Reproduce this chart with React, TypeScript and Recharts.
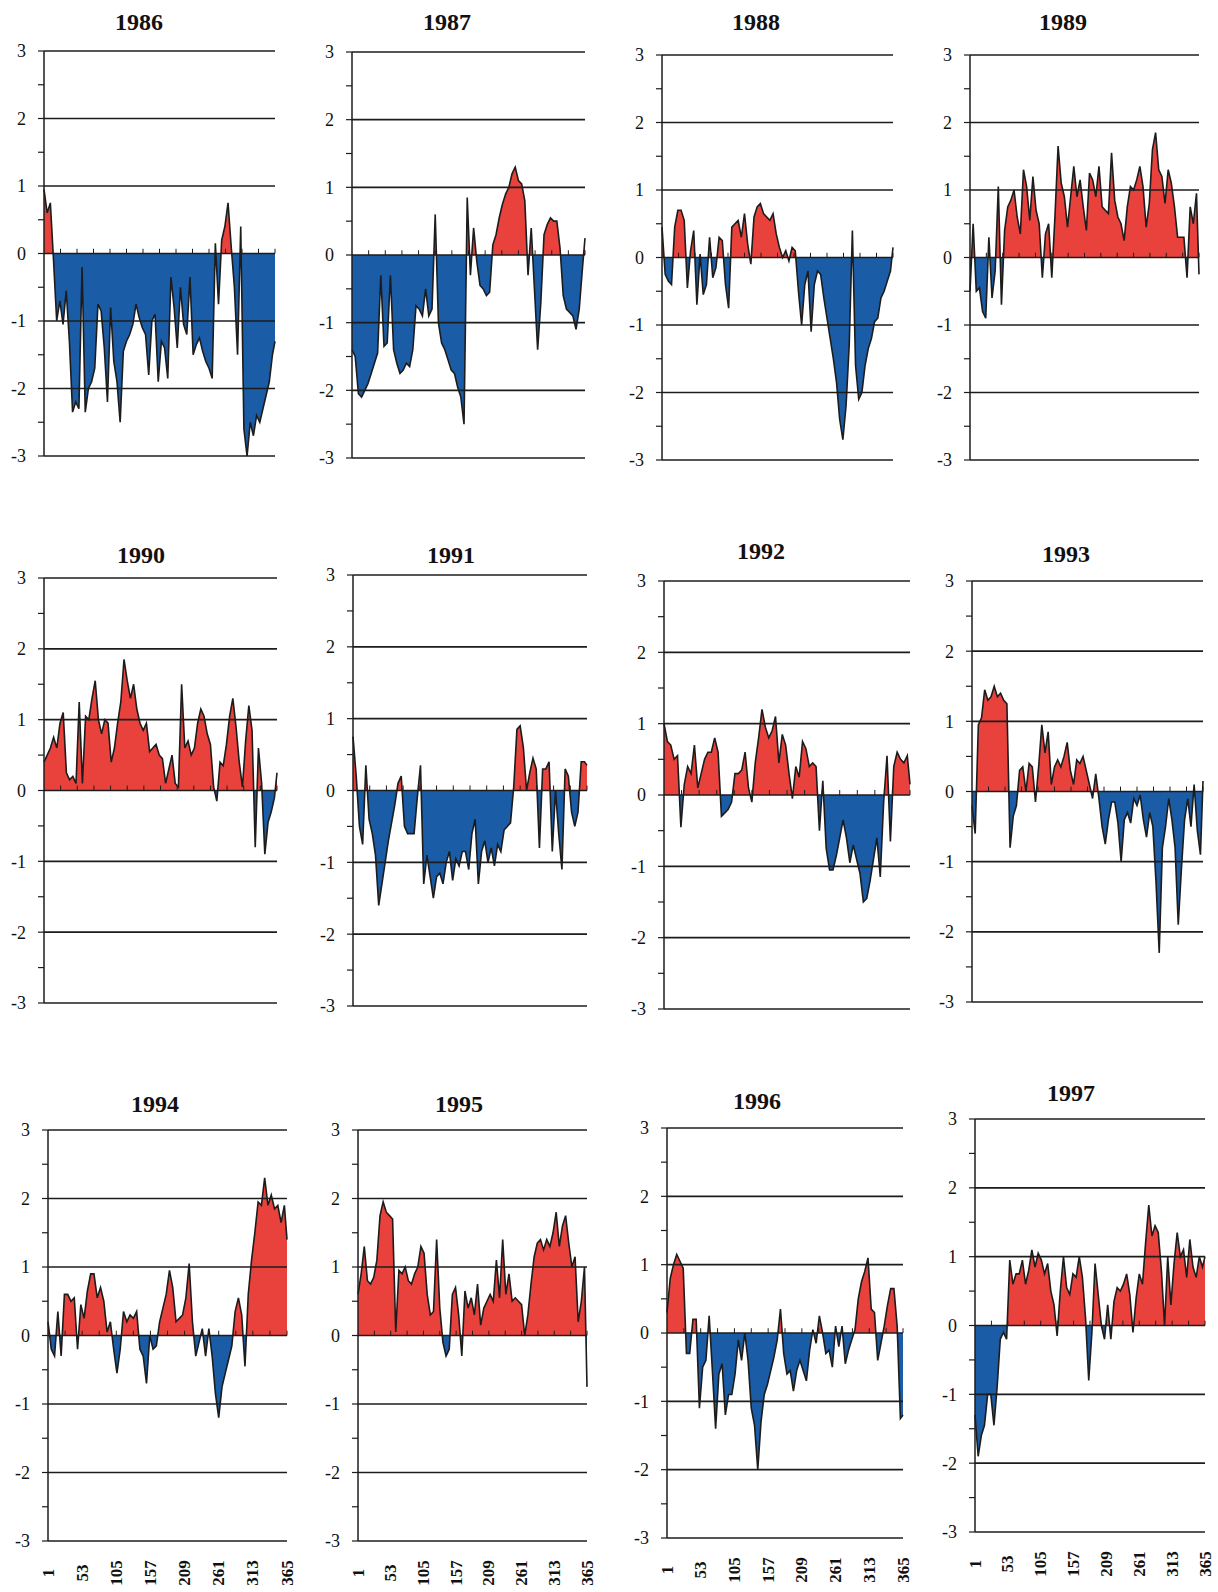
import React from 'react';
import { ComposedChart, Area, XAxis, YAxis, ReferenceLine } from 'recharts';

// Day-of-year positions of the sampled values
const days = [1,6,11,16,21,26,31,36,41,46,51,56,61,66,71,76,81,86,91,96,101,106,111,116,121,126,131,136,141,146,151,156,161,166,171,176,181,186,191,196,201,206,211,216,221,226,231,236,241,246,251,256,261,266,271,276,281,286,291,296,301,306,311,316,321,326,331,336,341,346,351,356,361,365];

const xLabelDays = [1, 53, 105, 157, 209, 261, 313, 365];
const zeroTickDays = [27, 53, 79, 105, 131, 157, 183, 209, 235, 261, 287, 313, 339, 365];
const yTicks = [-3, -2.5, -2, -1.5, -1, -0.5, 0, 0.5, 1, 1.5, 2, 2.5, 3];
const yGrid = [-3, -2, -1, 1, 2, 3];

const v1986 = [0.95,0.6,0.75,-0.1,-1.0,-0.7,-1.05,-0.55,-1.3,-2.35,-2.2,-2.3,-0.2,-2.35,-2.0,-1.9,-1.7,-0.75,-0.85,-1.4,-2.2,-0.8,-1.6,-1.9,-2.5,-1.45,-1.3,-1.2,-1.05,-0.75,-0.95,-1.1,-1.2,-1.8,-1.0,-0.9,-1.9,-1.3,-1.4,-1.85,-0.35,-0.8,-1.4,-0.5,-1.05,-1.2,-0.35,-1.5,-1.35,-1.25,-1.45,-1.6,-1.7,-1.85,0.15,-0.75,0.2,0.4,0.75,0.1,-0.5,-1.5,0.4,-2.6,-3.0,-2.5,-2.7,-2.4,-2.5,-2.3,-2.1,-1.9,-1.5,-1.3];
const v1987 = [-1.4,-1.5,-2.05,-2.1,-2.0,-1.9,-1.75,-1.6,-1.45,-0.3,-1.35,-1.3,-0.3,-1.4,-1.6,-1.75,-1.7,-1.6,-1.65,-1.4,-0.75,-0.8,-0.9,-0.5,-0.9,-0.8,0.6,-1.0,-1.3,-1.4,-1.55,-1.7,-1.75,-1.95,-2.1,-2.5,0.85,-0.3,0.4,-0.1,-0.45,-0.5,-0.6,-0.55,0.15,0.3,0.55,0.75,0.9,1.0,1.2,1.3,1.1,1.05,0.8,-0.3,0.4,-0.5,-1.4,-0.7,0.3,0.45,0.55,0.5,0.5,0.1,-0.6,-0.8,-0.85,-0.9,-1.1,-0.8,-0.2,0.25];
const v1988 = [0.45,-0.25,-0.35,-0.4,0.45,0.7,0.7,0.55,-0.45,0.1,0.4,-0.7,0.05,-0.55,-0.4,0.3,-0.3,-0.15,0.3,0.25,-0.4,-0.75,0.45,0.5,0.55,0.3,0.65,0.2,-0.1,0.6,0.75,0.8,0.65,0.6,0.55,0.65,0.35,0.15,0.0,0.1,-0.05,0.15,0.1,-0.5,-1.0,-0.4,-0.2,-1.1,-0.4,-0.2,-0.25,-0.6,-0.9,-1.2,-1.5,-1.85,-2.4,-2.7,-2.2,-1.3,0.4,-1.6,-2.1,-2.0,-1.6,-1.35,-1.2,-0.95,-0.9,-0.6,-0.5,-0.35,-0.2,0.15];
const v1989 = [-0.5,0.5,-0.5,-0.45,-0.8,-0.9,0.3,-0.6,-0.2,1.05,-0.7,0.4,0.75,0.85,1.0,0.6,0.35,1.3,1.05,0.55,1.2,0.7,0.5,-0.3,0.35,0.5,-0.3,0.6,1.65,1.1,0.9,0.45,0.9,1.35,0.9,1.15,0.75,0.4,1.25,1.15,0.9,1.35,0.75,0.7,0.65,1.55,0.85,0.6,0.5,0.25,0.75,1.05,1.0,1.15,1.35,1.05,0.45,0.8,1.6,1.85,1.3,1.2,0.8,1.3,1.1,0.75,0.3,0.3,0.3,-0.3,0.75,0.5,0.95,-0.25];
const v1990 = [0.4,0.5,0.6,0.75,0.6,0.95,1.1,0.25,0.15,0.2,0.1,1.25,0.1,1.05,1.0,1.3,1.55,1.0,0.8,1.0,0.95,0.4,0.6,0.95,1.25,1.85,1.55,1.3,1.5,1.15,0.95,0.85,0.95,0.55,0.6,0.65,0.5,0.45,0.1,0.3,0.5,0.1,0.05,1.5,0.6,0.7,0.5,0.6,0.95,1.15,1.05,0.8,0.65,0.05,-0.15,0.4,0.35,0.65,1.05,1.3,0.9,0.4,0.05,0.7,1.2,0.85,-0.8,0.6,0.1,-0.9,-0.45,-0.3,-0.1,0.25];
const v1991 = [0.75,0.2,-0.5,-0.75,0.35,-0.4,-0.6,-0.9,-1.6,-1.3,-1.0,-0.7,-0.45,-0.2,0.1,0.2,-0.5,-0.6,-0.6,-0.6,-0.1,0.35,-1.3,-0.9,-1.2,-1.5,-1.2,-1.15,-1.3,-1.0,-0.85,-1.25,-0.95,-1.05,-0.85,-0.85,-1.1,-0.6,-0.4,-1.3,-0.85,-0.7,-1.0,-0.8,-1.05,-0.75,-0.85,-0.55,-0.5,-0.45,0.05,0.85,0.9,0.6,0.0,0.25,0.45,0.3,-0.8,0.3,0.3,0.4,-0.85,0.0,-0.6,-1.1,0.3,0.2,-0.3,-0.5,-0.3,0.4,0.4,0.35];
const v1992 = [1.0,0.75,0.7,0.5,0.55,-0.45,0.15,0.4,0.3,0.7,0.1,0.3,0.5,0.6,0.6,0.8,0.6,-0.3,-0.25,-0.2,-0.1,0.3,0.3,0.35,0.6,0.1,-0.1,0.45,0.8,1.2,0.95,0.8,0.9,1.1,0.45,0.85,0.7,0.3,-0.05,0.4,0.25,0.75,0.65,0.4,0.45,0.4,-0.5,0.2,-0.75,-1.05,-1.05,-0.85,-0.6,-0.35,-0.6,-0.95,-0.7,-0.9,-1.1,-1.5,-1.45,-1.2,-0.9,-0.6,-1.15,-0.1,0.55,-0.65,0.4,0.6,0.5,0.45,0.55,0.15];
const v1993 = [-0.2,-0.6,0.95,1.05,1.45,1.3,1.35,1.5,1.35,1.4,1.3,1.25,-0.8,-0.35,-0.2,0.3,0.35,0.0,0.4,0.35,-0.15,0.35,0.95,0.55,0.85,0.1,0.35,0.45,0.35,0.5,0.7,0.3,0.1,0.45,0.4,0.5,0.3,0.1,-0.1,0.25,-0.1,-0.5,-0.75,-0.4,-0.15,-0.15,-0.45,-1.0,-0.4,-0.3,-0.45,-0.1,-0.2,-0.05,-0.4,-0.65,-0.3,-0.5,-1.3,-2.3,-0.8,-0.5,-0.1,-0.4,-0.8,-1.9,-1.1,-0.4,-0.1,-0.5,0.1,-0.55,-0.9,0.15];
const v1994 = [0.2,-0.2,-0.3,0.35,-0.3,0.6,0.6,0.5,0.55,-0.2,0.45,0.25,0.65,0.9,0.9,0.55,0.7,0.5,0.05,0.2,-0.2,-0.55,-0.2,0.35,0.2,0.3,0.25,0.35,-0.2,-0.3,-0.7,0.0,-0.2,-0.15,0.2,0.4,0.6,0.95,0.7,0.2,0.25,0.3,0.55,1.05,0.2,-0.3,-0.1,0.1,-0.3,0.1,-0.3,-0.85,-1.2,-0.75,-0.55,-0.35,-0.15,0.35,0.55,0.3,-0.45,0.6,1.1,1.5,1.95,1.9,2.3,1.9,2.05,1.85,1.9,1.65,1.9,1.4];
const v1995 = [0.6,0.9,1.3,0.8,0.75,0.85,1.1,1.75,1.95,1.8,1.75,1.7,0.05,0.95,0.9,1.0,0.8,0.75,0.9,1.0,1.3,1.2,0.6,0.3,0.35,1.4,0.4,-0.1,-0.3,-0.2,0.6,0.7,0.3,-0.3,0.65,0.4,0.55,0.3,0.75,0.15,0.4,0.5,0.6,0.5,1.1,0.55,1.4,0.6,0.9,0.5,0.55,0.5,0.45,0.0,0.3,0.75,1.15,1.35,1.4,1.25,1.4,1.3,1.5,1.8,1.3,1.6,1.75,1.35,1.0,1.15,0.2,0.5,1.0,-0.75];
const v1996 = [0.3,0.8,1.0,1.15,1.05,0.95,-0.3,-0.3,0.2,0.2,-1.1,-0.5,-0.4,0.25,-0.55,-1.4,-0.6,-0.45,-1.2,-0.9,-0.9,-0.6,-0.1,-0.4,0.0,-0.4,-1.1,-1.35,-2.0,-1.3,-0.9,-0.75,-0.55,-0.35,-0.1,0.35,-0.3,-0.6,-0.55,-0.85,-0.55,-0.4,-0.55,-0.7,-0.25,0.05,-0.15,0.25,0.0,-0.3,-0.25,-0.5,0.1,-0.2,0.1,-0.45,-0.25,-0.1,0.05,0.5,0.75,0.9,1.1,0.35,0.3,-0.4,-0.15,0.1,0.4,0.65,0.65,0.1,-1.25,-1.2];
const v1997 = [-1.3,-1.9,-1.6,-1.45,-1.0,-1.0,-1.45,-0.9,-0.2,-0.1,-0.2,0.95,0.6,0.75,0.75,0.95,0.6,0.8,1.1,0.85,1.05,0.95,0.75,0.9,0.5,0.3,-0.15,0.5,1.0,0.55,0.45,0.75,0.7,1.0,0.7,0.1,-0.8,-0.1,0.9,0.45,0.0,-0.2,0.3,-0.2,0.35,0.55,0.5,0.6,0.75,0.45,-0.1,0.4,0.75,0.6,1.2,1.75,1.3,1.45,1.35,0.8,0.0,1.0,0.3,0.9,1.35,1.0,1.1,0.7,1.25,0.85,0.7,1.0,0.85,1.0];

const RED = '#E9423D';
const BLUE = '#1B5CA6';
const INK = '#1c1c1c';
const SERIF = "'Liberation Serif', 'Times New Roman', serif";

type PanelDef = {
  year: number;
  values: number[];
  box: [number, number, number, number]; // plot left, top, right, bottom
  title: [number, number];
  showX: boolean;
};

const panels: PanelDef[] = [
  { year: 1986, values: v1986, box: [44, 51, 275, 456], title: [139, 22], showX: false },
  { year: 1987, values: v1987, box: [352, 52, 585, 458], title: [447, 22], showX: false },
  { year: 1988, values: v1988, box: [662, 55, 893, 460], title: [756, 22], showX: false },
  { year: 1989, values: v1989, box: [970, 55, 1199, 460], title: [1063, 22], showX: false },
  { year: 1990, values: v1990, box: [44, 578, 277, 1003], title: [141, 555], showX: false },
  { year: 1991, values: v1991, box: [353, 575, 587, 1006], title: [451, 555], showX: false },
  { year: 1992, values: v1992, box: [664, 581, 910, 1009], title: [761, 551], showX: false },
  { year: 1993, values: v1993, box: [972, 581, 1203, 1002], title: [1066, 554], showX: false },
  { year: 1994, values: v1994, box: [48, 1130, 287, 1541], title: [155, 1104], showX: true },
  { year: 1995, values: v1995, box: [358, 1130, 587, 1541], title: [459, 1104], showX: true },
  { year: 1996, values: v1996, box: [667, 1128, 903, 1538], title: [757, 1101], showX: true },
  { year: 1997, values: v1997, box: [975, 1119, 1205, 1532], title: [1071, 1093], showX: true },
];

const RotTick = (props: any) => {
  const { x, y, payload } = props;
  const cy = y + 24;
  return (
    <text
      x={x}
      y={cy}
      transform={`rotate(-90 ${x} ${cy})`}
      textAnchor="middle"
      dominantBaseline="central"
      fontFamily={SERIF}
      fontSize={17}
      fontWeight="bold"
      fill="#111"
    >
      {payload.value}
    </text>
  );
};

function Panel({ year, values, box, title, showX }: PanelDef) {
  const [l, t, r, b] = box;
  const YW = 48;
  const MT = 14;
  const MR = 12;
  const MB = showX ? 0 : 14;
  const XH = showX ? 50 : 0;
  const data = days.map((d, i) => ({ day: d, v: values[i] }));
  const max = Math.max(0, ...values);
  const min = Math.min(0, ...values);
  const off = max - min === 0 ? 0 : max / (max - min);
  const gid = `split${year}`;
  return (
    <>
      <div
        style={{
          position: 'absolute',
          left: title[0] - 50,
          top: title[1] - 15,
          width: 100,
          textAlign: 'center',
          fontFamily: SERIF,
          fontWeight: 'bold',
          fontSize: 24,
          lineHeight: '30px',
          color: '#111',
        }}
      >
        {year}
      </div>
      <div style={{ position: 'absolute', left: l - YW, top: t - MT }}>
        <ComposedChart
          width={r - l + YW + MR}
          height={b - t + MT + MB + XH}
          data={data}
          margin={{ top: MT, right: MR, left: 0, bottom: MB }}
        >
          <defs>
            <linearGradient id={gid} x1="0" y1="0" x2="0" y2="1">
              <stop offset={off} stopColor={RED} />
              <stop offset={off} stopColor={BLUE} />
            </linearGradient>
          </defs>
          <XAxis
            dataKey="day"
            type="number"
            domain={[1, 365]}
            ticks={xLabelDays}
            interval={0}
            hide={!showX}
            height={XH}
            axisLine={false}
            tickLine={false}
            tick={<RotTick />}
          />
          <YAxis
            type="number"
            domain={[-3, 3]}
            ticks={yTicks}
            interval={0}
            width={YW}
            tickSize={6}
            tickMargin={12}
            allowDataOverflow
            axisLine={{ stroke: INK, strokeWidth: 1.5 }}
            tickLine={{ stroke: INK, strokeWidth: 1.2 }}
            tickFormatter={(v: number) => (Number.isInteger(v) ? String(v) : '')}
            tick={{ fill: '#111', fontSize: 18, fontFamily: SERIF }}
          />
          {yGrid.map((g) => (
            <ReferenceLine key={`g${g}`} y={g} stroke={INK} strokeWidth={1.6} />
          ))}
          <Area
            type="linear"
            dataKey="v"
            baseValue={0}
            stroke={INK}
            strokeWidth={1.6}
            fill={`url(#${gid})`}
            fillOpacity={1}
            dot={false}
            activeDot={false}
            isAnimationActive={false}
          />
          <ReferenceLine y={0} stroke={INK} strokeWidth={1.6} />
          {zeroTickDays.map((d) => (
            <ReferenceLine
              key={`z${d}`}
              segment={[
                { x: d, y: 0 },
                { x: d, y: 0.07 },
              ]}
              stroke={INK}
              strokeWidth={1}
              ifOverflow="visible"
            />
          ))}
        </ComposedChart>
      </div>
    </>
  );
}

export default function App() {
  return (
    <div
      style={{
        position: 'absolute',
        left: 0,
        top: 0,
        width: 1218,
        height: 1592,
        background: '#ffffff',
        overflow: 'hidden',
      }}
    >
      {panels.map((p) => (
        <Panel key={p.year} {...p} />
      ))}
    </div>
  );
}
